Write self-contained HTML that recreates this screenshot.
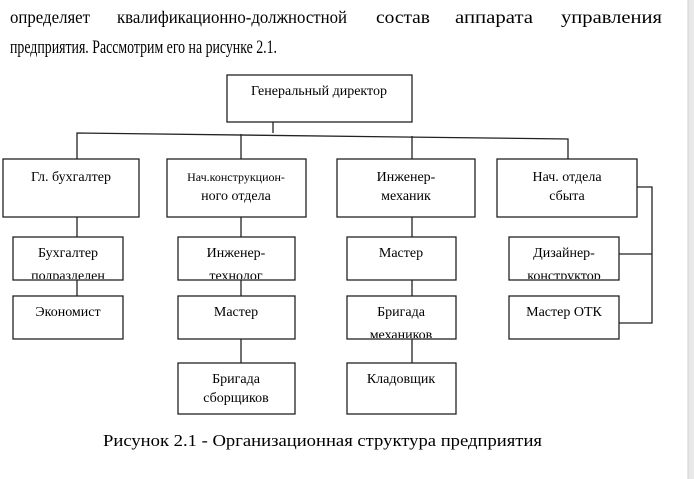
<!DOCTYPE html>
<html><head><meta charset="utf-8"><style>
html,body{margin:0;padding:0;background:#fff;}
svg{display:block;}
text{font-family:"Liberation Serif","DejaVu Serif",serif;fill:#000;}
</style></head><body>
<svg width="694" height="479" viewBox="0 0 694 479" xmlns="http://www.w3.org/2000/svg">
<rect x="688" y="0" width="6" height="479" fill="#e8e8e8"/>
<line x1="688" y1="0" x2="688" y2="479" stroke="#d0d0d0"/>
<g font-size="18" lengthAdjust="spacingAndGlyphs">
<text x="10" y="23" textLength="80" lengthAdjust="spacingAndGlyphs">определяет</text>
<text x="117" y="23" textLength="230" lengthAdjust="spacingAndGlyphs">квалификационно-должностной</text>
<text x="376" y="23" textLength="54" lengthAdjust="spacingAndGlyphs">состав</text>
<text x="455" y="23" textLength="78" lengthAdjust="spacingAndGlyphs">аппарата</text>
<text x="561" y="23" textLength="101" lengthAdjust="spacingAndGlyphs">управления</text>
</g>
<text x="10" y="53" font-size="19" textLength="267" lengthAdjust="spacingAndGlyphs">предприятия. Рассмотрим его на рисунке 2.1.</text>
<g fill="none" stroke="#222" stroke-width="1.3">
<rect x="227" y="75" width="185" height="47"/>
<line x1="273" y1="122" x2="273" y2="133"/>
<polyline points="77,159 77,133 568,139 568,159"/>
<line x1="241" y1="134" x2="241" y2="159"/>
<line x1="412" y1="136" x2="412" y2="159"/>
<rect x="3" y="159" width="136" height="58"/>
<rect x="167" y="159" width="139" height="58"/>
<rect x="337" y="159" width="138" height="58"/>
<rect x="497" y="159" width="140" height="58"/>
<line x1="77" y1="217" x2="77" y2="237"/><line x1="77" y1="280" x2="77" y2="296"/>
<line x1="241" y1="217" x2="241" y2="237"/><line x1="241" y1="280" x2="241" y2="296"/><line x1="241" y1="339" x2="241" y2="363"/>
<line x1="412" y1="217" x2="412" y2="237"/><line x1="412" y1="280" x2="412" y2="296"/><line x1="412" y1="339" x2="412" y2="363"/>
<polyline points="637,187 652,187 652,323 619,323"/>
<line x1="619" y1="254" x2="652" y2="254"/>
<rect x="13" y="237" width="110" height="43"/>
<rect x="178" y="237" width="117" height="43"/>
<rect x="347" y="237" width="109" height="43"/>
<rect x="509" y="237" width="110" height="43"/>
<rect x="13" y="296" width="110" height="43"/>
<rect x="178" y="296" width="117" height="43"/>
<rect x="347" y="296" width="109" height="43"/>
<rect x="509" y="296" width="110" height="43"/>
<rect x="178" y="363" width="117" height="51"/>
<rect x="347" y="363" width="109" height="51"/>
</g>
<defs>
<clipPath id="c1"><rect x="0" y="237" width="694" height="42"/></clipPath>
<clipPath id="c2"><rect x="0" y="296" width="694" height="42"/></clipPath>
</defs>
<g font-size="14" text-anchor="middle">
<text x="319" y="95">Генеральный директор</text>
<text x="71" y="181">Гл. бухгалтер</text>
<text x="236" y="181" font-size="12">Нач.конструкцион-</text>
<text x="236" y="200">ного отдела</text>
<text x="406" y="181">Инженер-</text>
<text x="406" y="200">механик</text>
<text x="567" y="181">Нач. отдела</text>
<text x="567" y="200">сбыта</text>
<g clip-path="url(#c1)">
<text x="68" y="257">Бухгалтер</text><text x="68" y="280">подразделен</text>
<text x="236" y="257">Инженер-</text><text x="236" y="280">технолог</text>
<text x="401" y="257">Мастер</text>
<text x="564" y="257">Дизайнер-</text><text x="564" y="280">конструктор</text>
</g>
<text x="68" y="316">Экономист</text>
<text x="236" y="316">Мастер</text>
<g clip-path="url(#c2)">
<text x="401" y="316">Бригада</text><text x="401" y="339">механиков</text>
</g>
<text x="564" y="316">Мастер ОТК</text>
<text x="236" y="383">Бригада</text><text x="236" y="402">сборщиков</text>
<text x="401" y="383">Кладовщик</text>
</g>
<text x="103" y="446" font-size="17" textLength="439" lengthAdjust="spacingAndGlyphs">Рисунок 2.1 - Организационная структура предприятия</text>
</svg>
</body></html>
